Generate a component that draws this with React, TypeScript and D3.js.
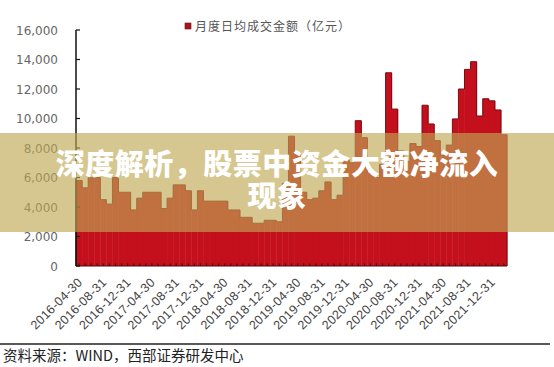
import React from "react";
import * as d3 from "d3";

// Monthly average daily turnover (亿元), 2016-04 .. 2022-02
const values: number[] = [
  5800, 5300, 6000, 6000, 4500, 4200, 6000, 5000, 5000,
  3800, 4600, 5000, 5000, 5000, 3900, 4600, 5500, 5500, 5100, 3800, 5100,
  4400, 4400, 4400, 4400, 3800, 3800, 3300, 3300, 2900, 2900, 3100, 3100,
  3000, 5600, 8800, 7700, 5000, 4500, 4600, 5100, 5700, 4500, 4800, 7200,
  7000, 9850, 8700, 6300, 6000, 6900, 13100, 10640, 7800, 7100, 8300, 8100,
  10900, 9630, 8500, 7500, 8200, 9970, 12000, 13330, 13850, 10170, 11340, 11200,
  10580, 8900,
];
const tickLabels: string[] = [
  "2016-04-30", "2016-08-31", "2016-12-31", "2017-04-30", "2017-08-31", "2017-12-31",
  "2018-04-30", "2018-08-31", "2018-12-31", "2019-04-30", "2019-08-31", "2019-12-31",
  "2020-04-30", "2020-08-31", "2020-12-31", "2021-04-30", "2021-08-31", "2021-12-31",
];
const yTicks: number[] = [0, 2000, 4000, 6000, 8000, 10000, 12000, 14000, 16000];
const legendLabel = "月度日均成交金额（亿元）";
const titleLines = ["深度解析，股票中资金大额净流入", "现象"];
const sourceText = "资料来源：WIND，西部证券研发中心";

const W = 554;
const H = 367;
const left = 76;
const right = 507;
const top = 30;
const bottom = 266;

export default function App() {
  const idx = values.map((_, i) => i);
  const x = d3.scaleBand<number>().domain(idx).range([left, right]).padding(0);
  const y = d3.scaleLinear().domain([0, 16000]).range([bottom, top]);
  const bw = x.bandwidth();

  // step outline along the bar tops
  const pts: [number, number][] = [[left, bottom]];
  values.forEach((v, i) => {
    pts.push([x(i)!, y(v)]);
    pts.push([x(i)! + bw, y(v)]);
  });
  pts.push([right, bottom]);
  const outline = d3.line()(pts) || "";

  const fmt = d3.format(",");

  return (
    <svg
      width={W}
      height={H}
      style={{ position: "absolute", left: 0, top: 0, background: "#fff" }}
    >
      {values.map((v, i) => (
        <rect
          key={i}
          x={x(i)!}
          y={y(v)}
          width={bw + 0.4}
          height={bottom - y(v)}
          fill="#c40f1d"
        />
      ))}
      <path d={outline} fill="none" stroke="#7a0d12" strokeWidth={1} />
      {idx.map((i) => (
        <line
          key={"bt" + i}
          x1={x(i)! + bw / 2}
          x2={x(i)! + bw / 2}
          y1={bottom - 2.5}
          y2={bottom}
          stroke="#5a0b0e"
          strokeWidth={1.2}
        />
      ))}
      <line x1={left} x2={right} y1={bottom} y2={bottom} stroke="#4a0a0c" strokeWidth={1.2} />

      <line x1={left} x2={left} y1={top} y2={bottom} stroke="#111" strokeWidth={1.5} />
      {yTicks.map((t) => (
        <g key={t}>
          <line x1={left} x2={left + 4} y1={y(t)} y2={y(t)} stroke="#111" strokeWidth={1.2} />
          <text
            x={58}
            y={y(t) + 4.5}
            textAnchor="end"
            fontFamily="DejaVu Sans"
            fontSize={12}
            fill="#666"
          >
            {fmt(t)}
          </text>
        </g>
      ))}

      {tickLabels.map((lab, k) => {
        const i = k * 4;
        const cx = x(i)! + bw / 2 + 4;
        const cy = 283;
        return (
          <text
            key={lab}
            transform={`translate(${cx},${cy}) rotate(-45)`}
            textAnchor="end"
            fontFamily="Liberation Sans"
            fontSize={12.5}
            letterSpacing={0.3}
            fill="#444"
          >
            {lab}
          </text>
        );
      })}

      <rect x={185} y={23} width={6} height={6} fill="#a8161c" stroke="#6a0c0f" strokeWidth={0.6} />
      <text
        x={195}
        y={31}
        fontFamily="Noto Sans CJK SC"
        fontSize={12}
        letterSpacing={1}
        fill="#555"
      >
        {legendLabel}
      </text>

      <rect x={0} y={133} width={W} height={99} fill="rgb(191,168,83)" fillOpacity={0.64} />
      {titleLines.map((t, k) => (
        <text
          key={t}
          x={277}
          y={175 + k * 32}
          textAnchor="middle"
          fontFamily="Noto Sans CJK SC"
          fontWeight={900}
          fontSize={29}
          letterSpacing={0.5}
          fill="#fff"
        >
          {t}
        </text>
      ))}

      <line x1={0} x2={550} y1={344} y2={344} stroke="#222" strokeWidth={1.4} />
      <text x={3} y={361} fontFamily="Noto Sans CJK SC" fontSize={14.5} fill="#222">
        {sourceText}
      </text>
    </svg>
  );
}
